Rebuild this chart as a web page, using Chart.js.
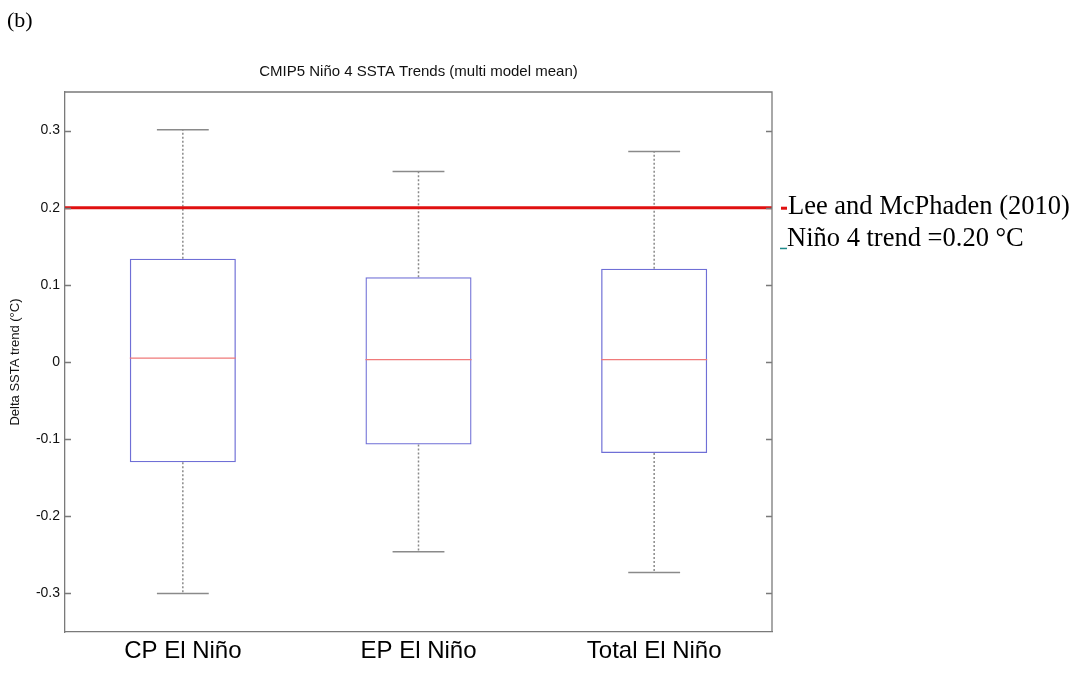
<!DOCTYPE html>
<html>
<head>
<meta charset="utf-8">
<title>CMIP5 Niño 4 SSTA Trends</title>
<script src="https://cdn.jsdelivr.net/npm/chart.js@4/dist/chart.umd.min.js"></script>
<style>
  html, body { margin: 0; padding: 0; background: #fff; }
  #wrap { width: 1079px; height: 674px; position: relative; }
</style>
</head>
<body>
<div id="wrap"><canvas id="chart-canvas"></canvas></div>
<script>
// box statistics per El Niño type (°C per period)
const categories = ['CP El Niño', 'EP El Niño', 'Total El Niño'];
const whiskerLow = [-0.300, -0.246, -0.273];
const boxLow = [-0.130, -0.107, -0.118];
const medians = [0.005, 0.003, 0.003];
const boxHigh = [0.134, 0.110, 0.121];
const whiskerHigh = [0.301, 0.247, 0.273];
const yTicks = [-0.3, -0.2, -0.1, 0, 0.1, 0.2, 0.3];
const leeTrend = 0.20; // observed Niño 4 trend, Lee and McPhaden (2010)

const boxHalf = 0.225;  // half box width in x units
const capHalf = 0.11;

// helpers that turn the stats into line segments (null = pen up)
function segments(fn) {
  const out = [];
  categories.forEach((c, i) => {
    out.push(...fn(i + 1, i));
    out.push({ x: i + 1.5, y: null });
  });
  return out;
}
const whiskerData = segments((x, i) => [
  { x: x, y: boxHigh[i] }, { x: x, y: whiskerHigh[i] }, { x: x + 0.01, y: null },
  { x: x, y: boxLow[i] }, { x: x, y: whiskerLow[i] }
]);
const capData = segments((x, i) => [
  { x: x - capHalf, y: whiskerHigh[i] }, { x: x + capHalf, y: whiskerHigh[i] }, { x: x, y: null },
  { x: x - capHalf, y: whiskerLow[i] }, { x: x + capHalf, y: whiskerLow[i] }
]);
const medianData = segments((x, i) => [
  { x: x - boxHalf, y: medians[i] }, { x: x + boxHalf, y: medians[i] }
]);

const frameColor = '#7a7a7a';

// frame top/right, inward ticks, panel tag and the note on the right
const extras = {
  id: 'extras',
  afterDraw(chart) {
    const { ctx, chartArea: a, scales } = chart;
    const y = scales.y;
    ctx.save();
    ctx.strokeStyle = frameColor;
    ctx.lineWidth = 1.3;
    ctx.beginPath();
    ctx.moveTo(a.left, a.top); ctx.lineTo(a.right, a.top); ctx.lineTo(a.right, a.bottom);
    yTicks.forEach(v => {
      const py = Math.round(y.getPixelForValue(v)) + 0.5;
      ctx.moveTo(a.left, py); ctx.lineTo(a.left + 6, py);
      ctx.moveTo(a.right, py); ctx.lineTo(a.right - 6, py);
    });
    ctx.stroke();

    ctx.fillStyle = '#000';
    ctx.font = '22px "Liberation Serif", "Times New Roman", serif';
    ctx.textBaseline = 'alphabetic';
    ctx.fillText('(b)', 7, 27);

    const ly = y.getPixelForValue(leeTrend);
    ctx.fillStyle = '#e01010';
    ctx.fillRect(a.right + 9, ly - 1, 6, 3);
    ctx.fillStyle = '#1f8a8a';
    ctx.fillRect(a.right + 8, ly + 40, 7, 1.5);
    ctx.fillStyle = '#000';
    ctx.font = '26.5px "Liberation Serif", "Times New Roman", serif';
    ctx.fillText('Lee and McPhaden (2010)', a.right + 16, ly + 6);
    ctx.fillText('Niño 4 trend =0.20 °C', a.right + 15, ly + 38);
    ctx.restore();
  }
};

const ctx = document.getElementById('chart-canvas').getContext('2d');
new Chart(ctx, {
  type: 'bar',
  data: {
    datasets: [
      {
        // interquartile boxes
        label: 'box',
        data: categories.map((c, i) => ({ x: i + 1, y: [boxLow[i], boxHigh[i]] })),
        backgroundColor: 'rgba(0,0,0,0)',
        borderColor: '#6f6fd6',
        borderWidth: 1.3,
        borderSkipped: false,
        barPercentage: 0.45,
        categoryPercentage: 1,
        order: 2
      },
      {
        type: 'line', label: 'whiskers', data: whiskerData,
        borderColor: '#8a8a8a', borderWidth: 1.5, borderDash: [2, 2],
        pointRadius: 0, spanGaps: false, order: 3
      },
      {
        type: 'line', label: 'caps', data: capData,
        borderColor: '#8a8a8a', borderWidth: 1.5,
        pointRadius: 0, spanGaps: false, order: 3
      },
      {
        type: 'line', label: 'median', data: medianData,
        borderColor: '#f07a7a', borderWidth: 1.3,
        pointRadius: 0, spanGaps: false, order: 1
      },
      {
        type: 'line', label: 'Lee and McPhaden (2010)',
        data: [{ x: 0.5, y: leeTrend }, { x: 3.5, y: leeTrend }],
        borderColor: '#e01010', borderWidth: 3,
        pointRadius: 0, order: 0
      }
    ]
  },
  options: {
    responsive: true,
    maintainAspectRatio: false,
    animation: false,
    layout: { padding: { left: 0, right: 307, top: 0, bottom: 0 } },
    plugins: {
      legend: { display: false },
      tooltip: { enabled: false },
      title: {
        display: true,
        fullSize: false,
        text: 'CMIP5 Niño 4 SSTA Trends (multi model mean)',
        color: '#111',
        font: { family: 'Liberation Sans, Arial, sans-serif', size: 15, weight: 'normal' },
        padding: { top: 63, bottom: 11 }
      }
    },
    scales: {
      x: {
        type: 'linear',
        min: 0.5,
        max: 3.5,
        offset: false,
        grid: { display: false, drawTicks: false },
        border: { display: true, color: frameColor, width: 1.3 },
        afterBuildTicks: s => { s.ticks = categories.map((c, i) => ({ value: i + 1 })); },
        afterFit: s => { s.height = 42; },
        ticks: {
          padding: 5,
          color: '#000',
          font: { family: 'Liberation Sans, Arial, sans-serif', size: 24 },
          callback: v => categories[Math.round(v) - 1] || ''
        }
      },
      y: {
        min: -0.35,
        max: 0.35,
        grid: { display: false, drawTicks: false },
        border: { display: true, color: frameColor, width: 1.3 },
        afterBuildTicks: s => { s.ticks = yTicks.map(v => ({ value: v })); },
        afterFit: s => { s.width = 65; },
        ticks: {
          padding: 5,
          color: '#111',
          font: { family: 'Liberation Sans, Arial, sans-serif', size: 14 },
          callback: v => (Math.abs(v) < 1e-9 ? '0' : v.toFixed(1))
        },
        title: {
          display: true,
          text: 'Delta SSTA trend (°C)',
          color: '#111',
          font: { family: 'Liberation Sans, Arial, sans-serif', size: 13 },
          padding: { top: 8, bottom: 0 }
        }
      }
    }
  },
  plugins: [extras]
});
</script>
</body>
</html>
